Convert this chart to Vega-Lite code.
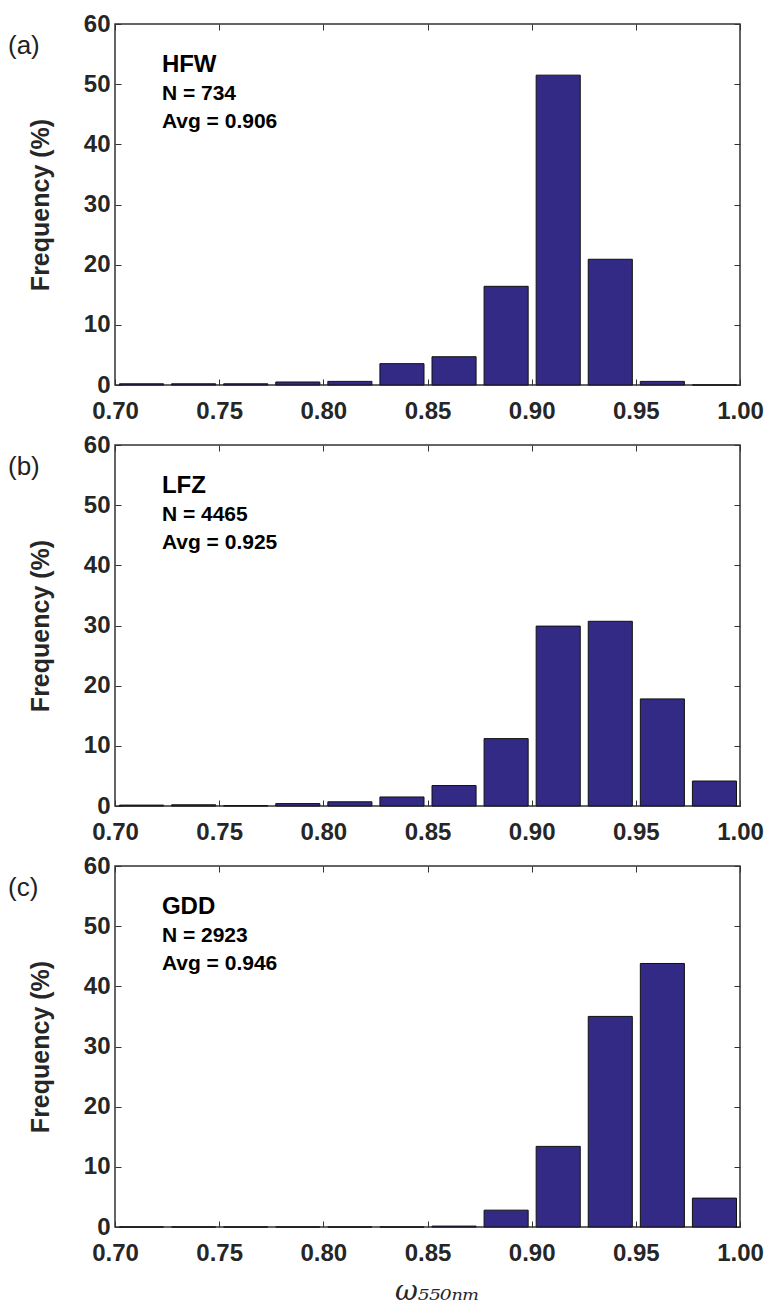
{
  "$schema": "https://vega.github.io/schema/vega-lite/v6.json",
  "padding": {"left": 7, "top": 11, "right": 5, "bottom": 5},
  "background": "white",
  "datasets": {
    "hist": [
      {"site": "HFW", "bin_start": 0.700, "bin_end": 0.725, "freq": 0.2},
      {"site": "HFW", "bin_start": 0.725, "bin_end": 0.750, "freq": 0.2},
      {"site": "HFW", "bin_start": 0.750, "bin_end": 0.775, "freq": 0.2},
      {"site": "HFW", "bin_start": 0.775, "bin_end": 0.800, "freq": 0.5},
      {"site": "HFW", "bin_start": 0.800, "bin_end": 0.825, "freq": 0.6},
      {"site": "HFW", "bin_start": 0.825, "bin_end": 0.850, "freq": 3.55},
      {"site": "HFW", "bin_start": 0.850, "bin_end": 0.875, "freq": 4.7},
      {"site": "HFW", "bin_start": 0.875, "bin_end": 0.900, "freq": 16.4},
      {"site": "HFW", "bin_start": 0.900, "bin_end": 0.925, "freq": 51.5},
      {"site": "HFW", "bin_start": 0.925, "bin_end": 0.950, "freq": 20.9},
      {"site": "HFW", "bin_start": 0.950, "bin_end": 0.975, "freq": 0.6},
      {"site": "HFW", "bin_start": 0.975, "bin_end": 1.000, "freq": 0},
      {"site": "LFZ", "bin_start": 0.700, "bin_end": 0.725, "freq": 0.15},
      {"site": "LFZ", "bin_start": 0.725, "bin_end": 0.750, "freq": 0.2},
      {"site": "LFZ", "bin_start": 0.750, "bin_end": 0.775, "freq": 0.05},
      {"site": "LFZ", "bin_start": 0.775, "bin_end": 0.800, "freq": 0.4},
      {"site": "LFZ", "bin_start": 0.800, "bin_end": 0.825, "freq": 0.7},
      {"site": "LFZ", "bin_start": 0.825, "bin_end": 0.850, "freq": 1.5},
      {"site": "LFZ", "bin_start": 0.850, "bin_end": 0.875, "freq": 3.4},
      {"site": "LFZ", "bin_start": 0.875, "bin_end": 0.900, "freq": 11.2},
      {"site": "LFZ", "bin_start": 0.900, "bin_end": 0.925, "freq": 29.9},
      {"site": "LFZ", "bin_start": 0.925, "bin_end": 0.950, "freq": 30.7},
      {"site": "LFZ", "bin_start": 0.950, "bin_end": 0.975, "freq": 17.8},
      {"site": "LFZ", "bin_start": 0.975, "bin_end": 1.000, "freq": 4.15},
      {"site": "GDD", "bin_start": 0.700, "bin_end": 0.725, "freq": 0},
      {"site": "GDD", "bin_start": 0.725, "bin_end": 0.750, "freq": 0},
      {"site": "GDD", "bin_start": 0.750, "bin_end": 0.775, "freq": 0},
      {"site": "GDD", "bin_start": 0.775, "bin_end": 0.800, "freq": 0},
      {"site": "GDD", "bin_start": 0.800, "bin_end": 0.825, "freq": 0},
      {"site": "GDD", "bin_start": 0.825, "bin_end": 0.850, "freq": 0},
      {"site": "GDD", "bin_start": 0.850, "bin_end": 0.875, "freq": 0.15},
      {"site": "GDD", "bin_start": 0.875, "bin_end": 0.900, "freq": 2.8},
      {"site": "GDD", "bin_start": 0.900, "bin_end": 0.925, "freq": 13.4},
      {"site": "GDD", "bin_start": 0.925, "bin_end": 0.950, "freq": 35.0},
      {"site": "GDD", "bin_start": 0.950, "bin_end": 0.975, "freq": 43.8},
      {"site": "GDD", "bin_start": 0.975, "bin_end": 1.000, "freq": 4.8}
    ],
    "notes": [
      {"site": "HFW", "panel": "(a)", "lines": ["N = 734", "Avg = 0.906"]},
      {"site": "LFZ", "panel": "(b)", "lines": ["N = 4465", "Avg = 0.925"]},
      {"site": "GDD", "panel": "(c)", "lines": ["N = 2923", "Avg = 0.946"]}
    ]
  },
  "spacing": 8,
  "vconcat": [
    {
      "width": 625, "height": 361,
      "layer": [
        {
          "data": {"name": "hist"},
          "transform": [{"filter": "datum.site === 'HFW'"}],
          "mark": {"type": "bar", "fill": "#332a85", "stroke": "#111111", "strokeWidth": 1, "binSpacing": 8},
          "encoding": {
            "x": {"field": "bin_start", "type": "quantitative", "bin": "binned", "scale": {"domain": [0.7, 1.0], "nice": false, "zero": false}, "axis": {"orient": "bottom", "values": [0.7, 0.75, 0.8, 0.85, 0.9, 0.95, 1.0], "format": ".2f", "title": null}},
            "x2": {"field": "bin_end"},
            "y": {"field": "freq", "type": "quantitative", "scale": {"domain": [0, 60], "nice": false}, "axis": {"orient": "left", "values": [0, 10, 20, 30, 40, 50, 60], "title": "Frequency (%)"}}
          }
        },
        {
          "data": {"name": "hist"},
          "transform": [{"filter": "datum.site === 'HFW'"}],
          "mark": {"type": "bar", "opacity": 0},
          "encoding": {
            "x": {"field": "bin_start", "type": "quantitative", "bin": "binned", "axis": {"orient": "top", "values": [0.7, 0.75, 0.8, 0.85, 0.9, 0.95, 1.0], "labels": false, "title": null}},
            "x2": {"field": "bin_end"},
            "y": {"field": "freq", "type": "quantitative", "axis": {"orient": "right", "values": [0, 10, 20, 30, 40, 50, 60], "labels": false, "title": null}}
          }
        },
        {
          "data": {"name": "notes"},
          "transform": [{"filter": "datum.site === 'HFW'"}],
          "mark": {"type": "text", "align": "left", "baseline": "alphabetic", "fontSize": 24, "fontWeight": "bold", "font": "Liberation Sans", "color": "#000000"},
          "encoding": {"x": {"datum": 0.7225, "axis": null}, "y": {"datum": 52, "axis": null}, "text": {"field": "site"}}
        },
        {
          "data": {"name": "notes"},
          "transform": [{"filter": "datum.site === 'HFW'"}],
          "mark": {"type": "text", "align": "left", "baseline": "alphabetic", "fontSize": 21, "fontWeight": "bold", "font": "Liberation Sans", "lineHeight": 28, "color": "#000000"},
          "encoding": {"x": {"datum": 0.7225, "axis": null}, "y": {"datum": 47.4, "axis": null}, "text": {"field": "lines"}}
        },
        {
          "data": {"name": "notes"},
          "transform": [{"filter": "datum.site === 'HFW'"}],
          "mark": {"type": "text", "align": "left", "baseline": "middle", "fontSize": 26, "font": "Liberation Sans", "dx": -107, "dy": 22, "color": "#222222"},
          "encoding": {"x": {"datum": 0.7, "axis": null}, "y": {"datum": 60, "axis": null}, "text": {"field": "panel"}}
        }
      ],
      "resolve": {"axis": {"x": "independent", "y": "independent"}}
    },
    {
      "width": 625, "height": 361,
      "layer": [
        {
          "data": {"name": "hist"},
          "transform": [{"filter": "datum.site === 'LFZ'"}],
          "mark": {"type": "bar", "fill": "#332a85", "stroke": "#111111", "strokeWidth": 1, "binSpacing": 8},
          "encoding": {
            "x": {"field": "bin_start", "type": "quantitative", "bin": "binned", "scale": {"domain": [0.7, 1.0], "nice": false, "zero": false}, "axis": {"orient": "bottom", "values": [0.7, 0.75, 0.8, 0.85, 0.9, 0.95, 1.0], "format": ".2f", "title": null}},
            "x2": {"field": "bin_end"},
            "y": {"field": "freq", "type": "quantitative", "scale": {"domain": [0, 60], "nice": false}, "axis": {"orient": "left", "values": [0, 10, 20, 30, 40, 50, 60], "title": "Frequency (%)"}}
          }
        },
        {
          "data": {"name": "hist"},
          "transform": [{"filter": "datum.site === 'LFZ'"}],
          "mark": {"type": "bar", "opacity": 0},
          "encoding": {
            "x": {"field": "bin_start", "type": "quantitative", "bin": "binned", "axis": {"orient": "top", "values": [0.7, 0.75, 0.8, 0.85, 0.9, 0.95, 1.0], "labels": false, "title": null}},
            "x2": {"field": "bin_end"},
            "y": {"field": "freq", "type": "quantitative", "axis": {"orient": "right", "values": [0, 10, 20, 30, 40, 50, 60], "labels": false, "title": null}}
          }
        },
        {
          "data": {"name": "notes"},
          "transform": [{"filter": "datum.site === 'LFZ'"}],
          "mark": {"type": "text", "align": "left", "baseline": "alphabetic", "fontSize": 24, "fontWeight": "bold", "font": "Liberation Sans", "color": "#000000"},
          "encoding": {"x": {"datum": 0.7225, "axis": null}, "y": {"datum": 52, "axis": null}, "text": {"field": "site"}}
        },
        {
          "data": {"name": "notes"},
          "transform": [{"filter": "datum.site === 'LFZ'"}],
          "mark": {"type": "text", "align": "left", "baseline": "alphabetic", "fontSize": 21, "fontWeight": "bold", "font": "Liberation Sans", "lineHeight": 28, "color": "#000000"},
          "encoding": {"x": {"datum": 0.7225, "axis": null}, "y": {"datum": 47.4, "axis": null}, "text": {"field": "lines"}}
        },
        {
          "data": {"name": "notes"},
          "transform": [{"filter": "datum.site === 'LFZ'"}],
          "mark": {"type": "text", "align": "left", "baseline": "middle", "fontSize": 26, "font": "Liberation Sans", "dx": -107, "dy": 22, "color": "#222222"},
          "encoding": {"x": {"datum": 0.7, "axis": null}, "y": {"datum": 60, "axis": null}, "text": {"field": "panel"}}
        }
      ],
      "resolve": {"axis": {"x": "independent", "y": "independent"}}
    },
    {
      "width": 625, "height": 361,
      "layer": [
        {
          "data": {"name": "hist"},
          "transform": [{"filter": "datum.site === 'GDD'"}],
          "mark": {"type": "bar", "fill": "#332a85", "stroke": "#111111", "strokeWidth": 1, "binSpacing": 8},
          "encoding": {
            "x": {"field": "bin_start", "type": "quantitative", "bin": "binned", "scale": {"domain": [0.7, 1.0], "nice": false, "zero": false}, "axis": {"orient": "bottom", "values": [0.7, 0.75, 0.8, 0.85, 0.9, 0.95, 1.0], "format": ".2f", "title": "ω₅₅₀ₙₘ", "titleFontStyle": "italic", "titleFontWeight": "normal", "titleFontSize": 28, "titleFont": "DejaVu Serif", "titlePadding": 12, "titleX": 322}},
            "x2": {"field": "bin_end"},
            "y": {"field": "freq", "type": "quantitative", "scale": {"domain": [0, 60], "nice": false}, "axis": {"orient": "left", "values": [0, 10, 20, 30, 40, 50, 60], "title": "Frequency (%)"}}
          }
        },
        {
          "data": {"name": "hist"},
          "transform": [{"filter": "datum.site === 'GDD'"}],
          "mark": {"type": "bar", "opacity": 0},
          "encoding": {
            "x": {"field": "bin_start", "type": "quantitative", "bin": "binned", "axis": {"orient": "top", "values": [0.7, 0.75, 0.8, 0.85, 0.9, 0.95, 1.0], "labels": false, "title": null}},
            "x2": {"field": "bin_end"},
            "y": {"field": "freq", "type": "quantitative", "axis": {"orient": "right", "values": [0, 10, 20, 30, 40, 50, 60], "labels": false, "title": null}}
          }
        },
        {
          "data": {"name": "notes"},
          "transform": [{"filter": "datum.site === 'GDD'"}],
          "mark": {"type": "text", "align": "left", "baseline": "alphabetic", "fontSize": 24, "fontWeight": "bold", "font": "Liberation Sans", "color": "#000000"},
          "encoding": {"x": {"datum": 0.7225, "axis": null}, "y": {"datum": 52, "axis": null}, "text": {"field": "site"}}
        },
        {
          "data": {"name": "notes"},
          "transform": [{"filter": "datum.site === 'GDD'"}],
          "mark": {"type": "text", "align": "left", "baseline": "alphabetic", "fontSize": 21, "fontWeight": "bold", "font": "Liberation Sans", "lineHeight": 28, "color": "#000000"},
          "encoding": {"x": {"datum": 0.7225, "axis": null}, "y": {"datum": 47.4, "axis": null}, "text": {"field": "lines"}}
        },
        {
          "data": {"name": "notes"},
          "transform": [{"filter": "datum.site === 'GDD'"}],
          "mark": {"type": "text", "align": "left", "baseline": "middle", "fontSize": 26, "font": "Liberation Sans", "dx": -107, "dy": 22, "color": "#222222"},
          "encoding": {"x": {"datum": 0.7, "axis": null}, "y": {"datum": 60, "axis": null}, "text": {"field": "panel"}}
        }
      ],
      "resolve": {"axis": {"x": "independent", "y": "independent"}}
    }
  ],
  "config": {
    "view": {"stroke": "#333333", "strokeWidth": 1.5},
    "axis": {
      "domain": false,
      "grid": false,
      "tickSize": -6,
      "tickColor": "#333333",
      "tickWidth": 1,
      "labelFont": "Liberation Sans",
      "labelFontSize": 24,
      "labelFontWeight": "bold",
      "labelColor": "#262626",
      "labelFlush": false,
      "labelOverlap": false,
      "titleFont": "Liberation Sans",
      "titleFontSize": 25,
      "titleFontWeight": "bold",
      "titleColor": "#262626"
    },
    "axisX": {"labelPadding": 20},
    "axisY": {"labelPadding": 11, "titlePadding": 30}
  }
}
